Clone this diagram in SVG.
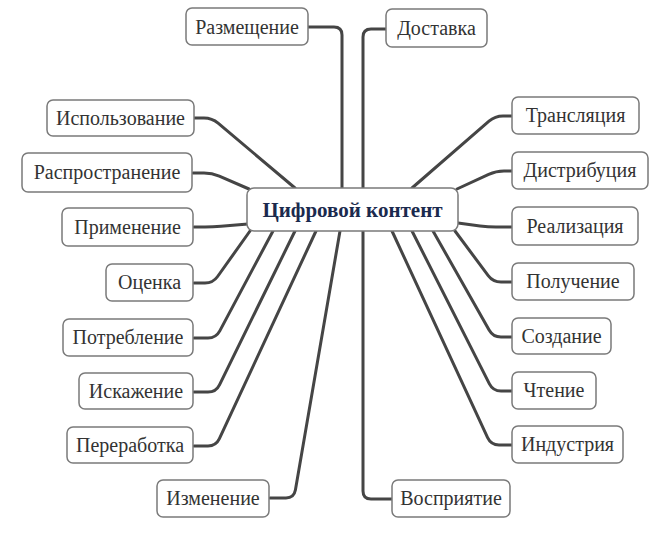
<svg xmlns="http://www.w3.org/2000/svg" width="665" height="533" viewBox="0 0 665 533">
<style>
.c{fill:none;stroke:#454545;stroke-width:3;stroke-linecap:round;stroke-linejoin:round}
.b{fill:#fff;stroke:#7a7a7a;stroke-width:1.5}
.t{font-family:"Liberation Serif","Times New Roman",serif;font-size:20px;fill:#333;text-anchor:middle}
.m{font-family:"Liberation Serif","Times New Roman",serif;font-size:21px;font-weight:bold;fill:#1b2a4e;text-anchor:middle}
</style>
<rect width="665" height="533" fill="#fff"/>
<g id="connectors">
<path class="c" d="M308,27 L334,27 Q342,27 342,35 L342,188"/>
<path class="c" d="M386,29 L371,29 Q363,29 363,37 L363,188"/>
<path class="c" d="M194,118 L204,118 Q212,118 218.1,123.2 L295,188"/>
<path class="c" d="M193,173 L204,173 Q212,173 219.3,176.2 L249,189"/>
<path class="c" d="M194,227 L205,227 Q213,227 221,226.3 L248,224"/>
<path class="c" d="M194,283 L205,283 Q213,283 217.6,276.5 L250,231"/>
<path class="c" d="M194,338 L208,338 Q216,338 219.8,330.9 L273,231"/>
<path class="c" d="M194,392 L208,392 Q216,392 219.5,384.8 L295,231"/>
<path class="c" d="M194,446 L208,446 Q216,446 219.4,438.7 L316,231"/>
<path class="c" d="M270,498 L286,498 Q294,498 295.4,490.1 L340,231"/>
<path class="c" d="M512,116 L503,116 Q495,116 489,121.2 L412,188"/>
<path class="c" d="M512,171 L504,171 Q496,171 488.7,174.4 L457,189"/>
<path class="c" d="M512,227 L496,227 Q488,227 480,226 L458,223"/>
<path class="c" d="M512,282 L501,282 Q493,282 488.2,275.6 L455,231"/>
<path class="c" d="M512,337 L501,337 Q493,337 489.1,330 L433,231"/>
<path class="c" d="M512,391 L501,391 Q493,391 489.4,383.9 L412,231"/>
<path class="c" d="M512,445 L499,445 Q491,445 487.6,437.7 L392,231"/>
<path class="c" d="M392,499 L371,499 Q363,499 363,491 L363,231"/>
</g>
<g id="center"><rect class="b" x="247" y="188" width="211" height="43" rx="7"/><text class="m" x="352.5" y="217">Цифровой контент</text></g>
<g id="n1"><rect class="b" x="186" y="8" width="122" height="37" rx="6"/><text class="t" x="247" y="33.5">Размещение</text></g>
<g id="n2"><rect class="b" x="386" y="9" width="101" height="38" rx="6"/><text class="t" x="436.5" y="34.5">Доставка</text></g>
<g id="n3"><rect class="b" x="47" y="100" width="147" height="36" rx="6"/><text class="t" x="120.5" y="124.5">Использование</text></g>
<g id="n4"><rect class="b" x="22" y="153" width="170" height="39" rx="6"/><text class="t" x="107" y="179">Распространение</text></g>
<g id="n5"><rect class="b" x="62" y="208" width="131" height="38" rx="6"/><text class="t" x="127.5" y="233.5">Применение</text></g>
<g id="n6"><rect class="b" x="106" y="264" width="87" height="37" rx="6"/><text class="t" x="149.5" y="289">Оценка</text></g>
<g id="n7"><rect class="b" x="63" y="319" width="130" height="37" rx="6"/><text class="t" x="128" y="344">Потребление</text></g>
<g id="n8"><rect class="b" x="79" y="373" width="114" height="36" rx="6"/><text class="t" x="136" y="397.5">Искажение</text></g>
<g id="n9"><rect class="b" x="67" y="427" width="126" height="36" rx="6"/><text class="t" x="130" y="451.5">Переработка</text></g>
<g id="n10"><rect class="b" x="157" y="480" width="112" height="37" rx="6"/><text class="t" x="213" y="505">Изменение</text></g>
<g id="n11"><rect class="b" x="512" y="97" width="127" height="37" rx="6"/><text class="t" x="575.5" y="122">Трансляция</text></g>
<g id="n12"><rect class="b" x="512" y="152" width="136" height="37" rx="6"/><text class="t" x="580" y="177">Дистрибуция</text></g>
<g id="n13"><rect class="b" x="512" y="207" width="126" height="38" rx="6"/><text class="t" x="575" y="232.5">Реализация</text></g>
<g id="n14"><rect class="b" x="512" y="263" width="122" height="37" rx="6"/><text class="t" x="573" y="288">Получение</text></g>
<g id="n15"><rect class="b" x="512" y="318" width="99" height="36" rx="6"/><text class="t" x="561.5" y="342.5">Создание</text></g>
<g id="n16"><rect class="b" x="512" y="372" width="84" height="37" rx="6"/><text class="t" x="554" y="397">Чтение</text></g>
<g id="n17"><rect class="b" x="512" y="426" width="111" height="37" rx="6"/><text class="t" x="567.5" y="451">Индустрия</text></g>
<g id="n18"><rect class="b" x="392" y="480" width="118" height="37" rx="6"/><text class="t" x="451" y="505">Восприятие</text></g>
</svg>
